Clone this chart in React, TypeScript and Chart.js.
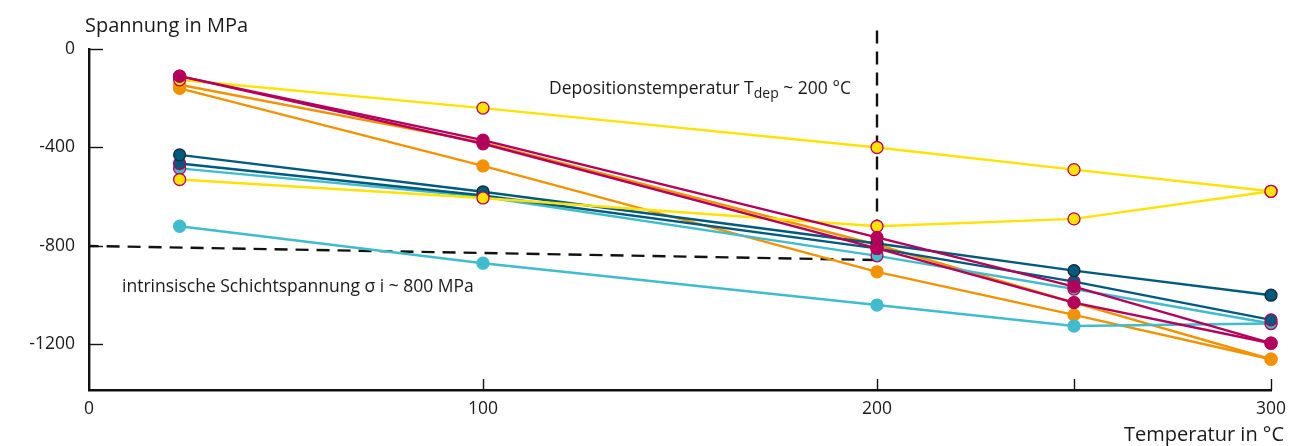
import React, { useEffect, useRef } from "react";
import { Chart, registerables } from "chart.js";

Chart.register(...registerables);

// Temperatures (°C) at which stress was measured
const temps = [23, 100, 200, 250, 300];

// Stress curves in MPa, one array per sample
const magentaA = [-110, -370, -765, -965, -1195];
const magentaB = [-110, -385, -810, -1030, -1195];
const yellowA = [-125, -240, -400, -490, -578];
const yellowB = [-530, -605, -720, -690, -578];
const tealA = [-430, -580, -790, -900, -1000];
const tealB = [-465, -595, -810, -945, -1100];
const cyanA = [-485, -600, -840, -975, -1115];
const cyanB = [-720, -870, -1040, -1125, -1115];
const orangeA = [-145, -380, -795, -1030, -1260];
const orangeB = [-160, -475, -905, -1080, -1260];

// Guide lines: deposition temperature and intrinsic stress
const guideX = [200, 200, 0];
const guideY = [75, -857, -800];

// Axis ticks
const xTicks = [0, 100, 200, 250, 300];
const xTickLabels = ["0", "100", "200", "", "300"];
const yTicks = [0, -400, -800, -1200];
const yTickLabels = ["0", "-400", "-800", "-1200"];
const yMin = -1385;
const yMax = 0;

const MAGENTA = "#b4005a";
const YELLOW = "#ffe300";
const TEAL = "#005a7d";
const CYAN = "#41bccd";
const ORANGE = "#f39200";
const FONT = "'Open Sans', 'Noto Sans', sans-serif";

const toPoints = (ys: number[]) => temps.map((t, i) => ({ x: t, y: ys[i] }));

function series(ys: number[], color: string, pointBorder: string) {
  return {
    data: toPoints(ys),
    borderColor: color,
    backgroundColor: color,
    borderWidth: 2.4,
    pointRadius: 6,
    pointBorderColor: pointBorder,
    pointBorderWidth: 1.3,
    pointBackgroundColor: color,
    clip: false as const,
  };
}

const decorations = {
  id: "decorations",
  afterDraw(chart: any) {
    const { ctx, chartArea, scales } = chart;
    const x = scales.x;
    const y = scales.y;
    ctx.save();
    ctx.strokeStyle = "#111";
    ctx.lineWidth = 1.4;
    // tick marks pointing into the plot
    for (const v of xTicks) {
      if (v === 0) continue;
      const px = Math.round(x.getPixelForValue(v)) + 0.5;
      ctx.beginPath();
      ctx.moveTo(px, chartArea.bottom);
      ctx.lineTo(px, chartArea.bottom - 11);
      ctx.stroke();
    }
    for (const v of yTicks) {
      const py = Math.round(y.getPixelForValue(v)) + 0.5;
      ctx.beginPath();
      ctx.moveTo(chartArea.left, py);
      ctx.lineTo(chartArea.left + 14, py);
      ctx.stroke();
    }

    ctx.fillStyle = "#1a1a1a";
    ctx.textBaseline = "middle";

    // axis titles
    ctx.font = `20px ${FONT}`;
    ctx.textAlign = "left";
    ctx.fillText("Spannung in MPa", 85, 26);
    ctx.textAlign = "right";
    ctx.fillText("Temperatur in °C", 1284, 435);

    // annotations
    ctx.font = `17.5px ${FONT}`;
    ctx.textAlign = "left";
    const ax = 549;
    const ay = 89;
    const part1 = "Depositionstemperatur T";
    ctx.fillText(part1, ax, ay);
    let cx = ax + ctx.measureText(part1).width;
    ctx.font = `14px ${FONT}`;
    ctx.fillText("dep", cx, ay + 5);
    cx += ctx.measureText("dep").width;
    ctx.font = `17.5px ${FONT}`;
    ctx.fillText(" ~ 200 °C", cx, ay);

    ctx.fillText("intrinsische Schichtspannung σ i ~ 800 MPa", 122, 287);
    ctx.restore();
  },
};

export default function App() {
  const canvasRef = useRef<HTMLCanvasElement | null>(null);

  useEffect(() => {
    const canvas = canvasRef.current;
    if (!canvas) return;
    const chart = new Chart(canvas, {
      type: "line",
      data: {
        datasets: [
          series(magentaA, MAGENTA, MAGENTA),
          series(magentaB, MAGENTA, MAGENTA),
          series(yellowA, YELLOW, MAGENTA),
          series(yellowB, YELLOW, MAGENTA),
          series(tealA, TEAL, "#1b2a33"),
          series(tealB, TEAL, MAGENTA),
          series(cyanA, CYAN, MAGENTA),
          series(cyanB, CYAN, CYAN),
          series(orangeA, ORANGE, ORANGE),
          series(orangeB, ORANGE, ORANGE),
          {
            data: guideX.map((gx, i) => ({ x: gx, y: guideY[i] })),
            borderColor: "#111",
            borderWidth: 2.4,
            borderDash: [13, 8],
            pointRadius: 0,
            clip: false as const,
          },
        ],
      },
      options: {
        animation: false,
        responsive: false,
        maintainAspectRatio: false,
        layout: { padding: { left: 0, right: 41, top: 49, bottom: 0 } },
        plugins: { legend: { display: false }, tooltip: { enabled: false } },
        scales: {
          x: {
            type: "linear",
            min: 0,
            max: 300,
            afterBuildTicks: (scale: any) => {
              scale.ticks = xTicks.map((v) => ({ value: v }));
            },
            afterFit: (scale: any) => {
              scale.height = 56;
            },
            ticks: {
              callback: (_v: any, i: number) => xTickLabels[i],
              maxRotation: 0,
              autoSkip: false,
              padding: 9,
              color: "#1a1a1a",
              font: { family: FONT, size: 17.5 },
            },
            grid: { display: true, drawOnChartArea: false, drawTicks: false },
            border: { display: true, color: "#111", width: 2.6 },
          },
          y: {
            type: "linear",
            min: yMin,
            max: yMax,
            afterBuildTicks: (scale: any) => {
              scale.ticks = yTicks.map((v) => ({ value: v }));
            },
            afterFit: (scale: any) => {
              scale.width = 89;
            },
            ticks: {
              callback: (_v: any, i: number) => yTickLabels[i],
              padding: 14,
              color: "#1a1a1a",
              font: { family: FONT, size: 17.5 },
            },
            grid: { display: true, drawOnChartArea: false, drawTicks: false },
            border: { display: true, color: "#111", width: 2.4 },
          },
        },
      },
      plugins: [decorations],
    });
    return () => chart.destroy();
  }, []);

  return (
    <div style={{ position: "fixed", left: 0, top: 0, width: 1312, height: 446, background: "#fff" }}>
      <canvas ref={canvasRef} width={1312} height={446} />
    </div>
  );
}
